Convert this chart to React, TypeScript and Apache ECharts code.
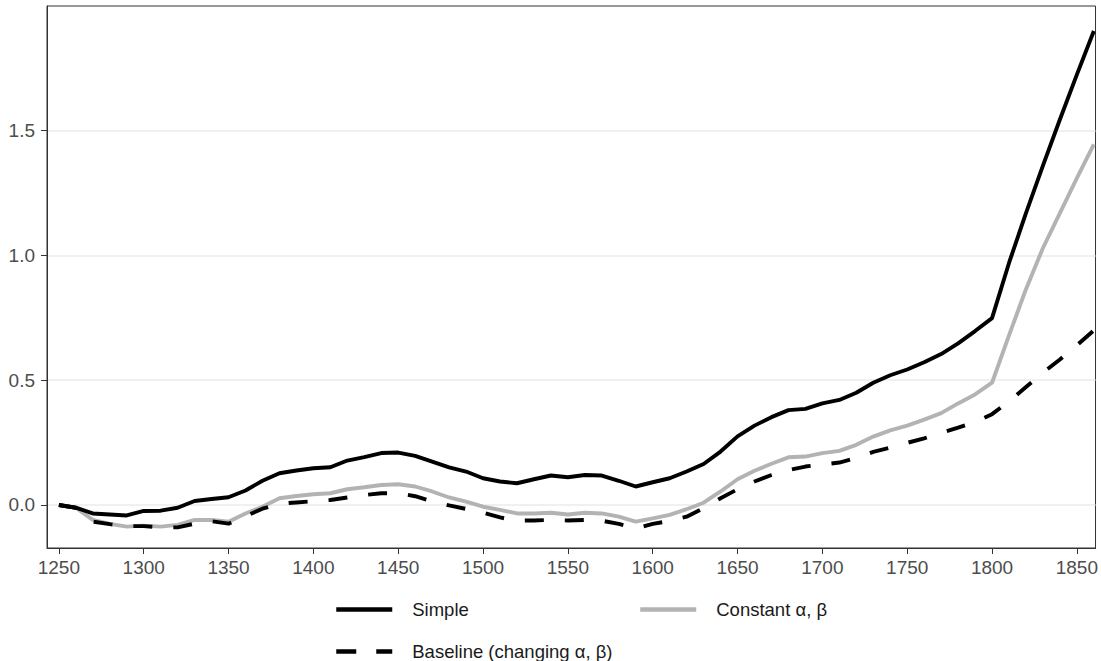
import React, { useEffect, useRef } from "react";
import * as echarts from "echarts";

// Decadal observations, 1250–1860
const years = [
  1250, 1260, 1270, 1280, 1290, 1300, 1310, 1320, 1330, 1340, 1350, 1360, 1370, 1380, 1390, 1400,
  1410, 1420, 1430, 1440, 1450, 1460, 1470, 1480, 1490, 1500, 1510, 1520, 1530, 1540, 1550, 1560,
  1570, 1580, 1590, 1600, 1610, 1620, 1630, 1640, 1650, 1660, 1670, 1680, 1690, 1700, 1710, 1720,
  1730, 1740, 1750, 1760, 1770, 1780, 1790, 1800, 1810, 1820, 1830, 1840, 1850, 1860,
];

const simple = [
  0, -0.011, -0.034, -0.038, -0.042, -0.024, -0.023, -0.011, 0.016, 0.024, 0.031, 0.058, 0.097, 0.127, 0.138, 0.147,
  0.151, 0.178, 0.192, 0.208, 0.21, 0.197, 0.174, 0.151, 0.134, 0.107, 0.094, 0.087, 0.103, 0.118, 0.111, 0.12,
  0.118, 0.097, 0.074, 0.091, 0.107, 0.134, 0.164, 0.214, 0.275, 0.318, 0.352, 0.38, 0.385, 0.407, 0.421, 0.45,
  0.49, 0.52, 0.543, 0.572, 0.605, 0.648, 0.697, 0.749, 0.97, 1.17, 1.36, 1.545, 1.725, 1.9,
];

const constantAB = [
  0, -0.011, -0.06, -0.076, -0.087, -0.083, -0.087, -0.08, -0.06, -0.06, -0.067, -0.034, -0.007, 0.027, 0.036, 0.043,
  0.047, 0.063, 0.071, 0.08, 0.083, 0.074, 0.054, 0.03, 0.013, -0.007, -0.02, -0.034, -0.034, -0.031, -0.038, -0.031,
  -0.034, -0.047, -0.067, -0.054, -0.04, -0.017, 0.009, 0.054, 0.103, 0.137, 0.165, 0.191, 0.194, 0.208, 0.217, 0.241,
  0.274, 0.299, 0.318, 0.342, 0.368, 0.407, 0.443, 0.49, 0.68, 0.865, 1.03, 1.17, 1.31, 1.445,
];

const baseline = [
  0, -0.011, -0.067, -0.077, -0.085, -0.085, -0.09, -0.09, -0.075, -0.065, -0.075, -0.045, -0.015, 0.005, 0.01, 0.015,
  0.02, 0.03, 0.04, 0.047, 0.047, 0.035, 0.015, -0.002, -0.016, -0.031, -0.05, -0.063, -0.062, -0.06, -0.062, -0.06,
  -0.063, -0.076, -0.094, -0.076, -0.064, -0.047, -0.013, 0.027, 0.063, 0.094, 0.12, 0.14, 0.154, 0.162, 0.17, 0.188,
  0.213, 0.23, 0.249, 0.267, 0.289, 0.31, 0.332, 0.364, 0.415, 0.473, 0.53, 0.583, 0.64, 0.7,
];

const xTicks = [1250, 1300, 1350, 1400, 1450, 1500, 1550, 1600, 1650, 1700, 1750, 1800, 1850];
const yTicks = [0, 0.5, 1, 1.5];

const seriesNames = ["Simple", "Constant α, β", "Baseline (changing α, β)"];

const FONT = "'Liberation Sans', Arial, Helvetica, sans-serif";
const AXIS_COLOR = "#333333";
const LINE_WIDTH = 3.9;
const DASH = [19, 21];

export default function App() {
  const ref = useRef<HTMLDivElement>(null);

  useEffect(() => {
    if (!ref.current) return;
    const chart = echarts.init(ref.current, null, { renderer: "svg" });
    const pairs = (vals: number[]) => years.map((y, i) => [y, vals[i]]);

    const legendBase = {
      orient: "horizontal",
      itemWidth: 56,
      itemHeight: 14,
      padding: 0,
      selectedMode: false,
      itemStyle: { opacity: 0 },
      textStyle: { fontFamily: FONT, fontSize: 18.5, color: "#1a1a1a", padding: [0, 0, 0, 15] },
    };

    chart.setOption({
      animation: false,
      backgroundColor: "#ffffff",
      grid: {
        left: 47,
        right: 3,
        top: 6,
        bottom: 113,
        show: true,
        borderColor: AXIS_COLOR,
        borderWidth: 1,
        backgroundColor: "transparent",
      },
      xAxis: {
        type: "value",
        min: 1243,
        max: 1861,
        axisLine: { show: true, onZero: false, lineStyle: { color: AXIS_COLOR, width: 1 } },
        axisTick: { show: true, length: 6, customValues: xTicks, lineStyle: { color: AXIS_COLOR, width: 1 } },
        axisLabel: {
          customValues: xTicks,
          margin: 10,
          color: "#4d4d4d",
          fontSize: 19,
          fontFamily: FONT,
          formatter: (v: number) => String(v),
        },
        splitLine: { show: false },
      },
      yAxis: {
        type: "value",
        min: -0.1725,
        max: 2.0,
        axisLine: { show: true, onZero: false, lineStyle: { color: AXIS_COLOR, width: 1 } },
        axisTick: { show: true, length: 6, customValues: yTicks, lineStyle: { color: AXIS_COLOR, width: 1 } },
        axisLabel: {
          customValues: yTicks,
          margin: 12,
          color: "#4d4d4d",
          fontSize: 19,
          fontFamily: FONT,
          formatter: (v: number) => v.toFixed(1),
        },
        splitLine: { show: true, lineStyle: { color: "#ebebeb", width: 1.6 } },
      },
      legend: [
        { ...legendBase, data: [seriesNames[0]], left: 334, top: 600, lineStyle: { width: 4.5 } },
        { ...legendBase, data: [seriesNames[1]], left: 638, top: 600, lineStyle: { width: 4.5 } },
        { ...legendBase, data: [seriesNames[2]], left: 334, top: 642, lineStyle: { width: 4.5, type: [20, 20] } },
      ],
      series: [
        {
          name: seriesNames[1],
          type: "line",
          data: pairs(constantAB),
          symbol: "none",
          z: 3,
          lineStyle: { color: "#b3b3b3", width: LINE_WIDTH, type: "solid" },
          itemStyle: { color: "#b3b3b3" },
        },
        {
          name: seriesNames[0],
          type: "line",
          data: pairs(simple),
          symbol: "none",
          z: 4,
          lineStyle: { color: "#000000", width: LINE_WIDTH, type: "solid" },
          itemStyle: { color: "#000000" },
        },
        {
          name: seriesNames[2],
          type: "line",
          data: pairs(baseline),
          symbol: "none",
          z: 5,
          lineStyle: { color: "#000000", width: LINE_WIDTH, type: DASH, cap: "butt" },
          itemStyle: { color: "#000000" },
        },
      ],
    });

    return () => chart.dispose();
  }, []);

  return (
    <div
      ref={ref}
      style={{ position: "absolute", left: 0, top: 0, width: 1101, height: 661 }}
    />
  );
}
